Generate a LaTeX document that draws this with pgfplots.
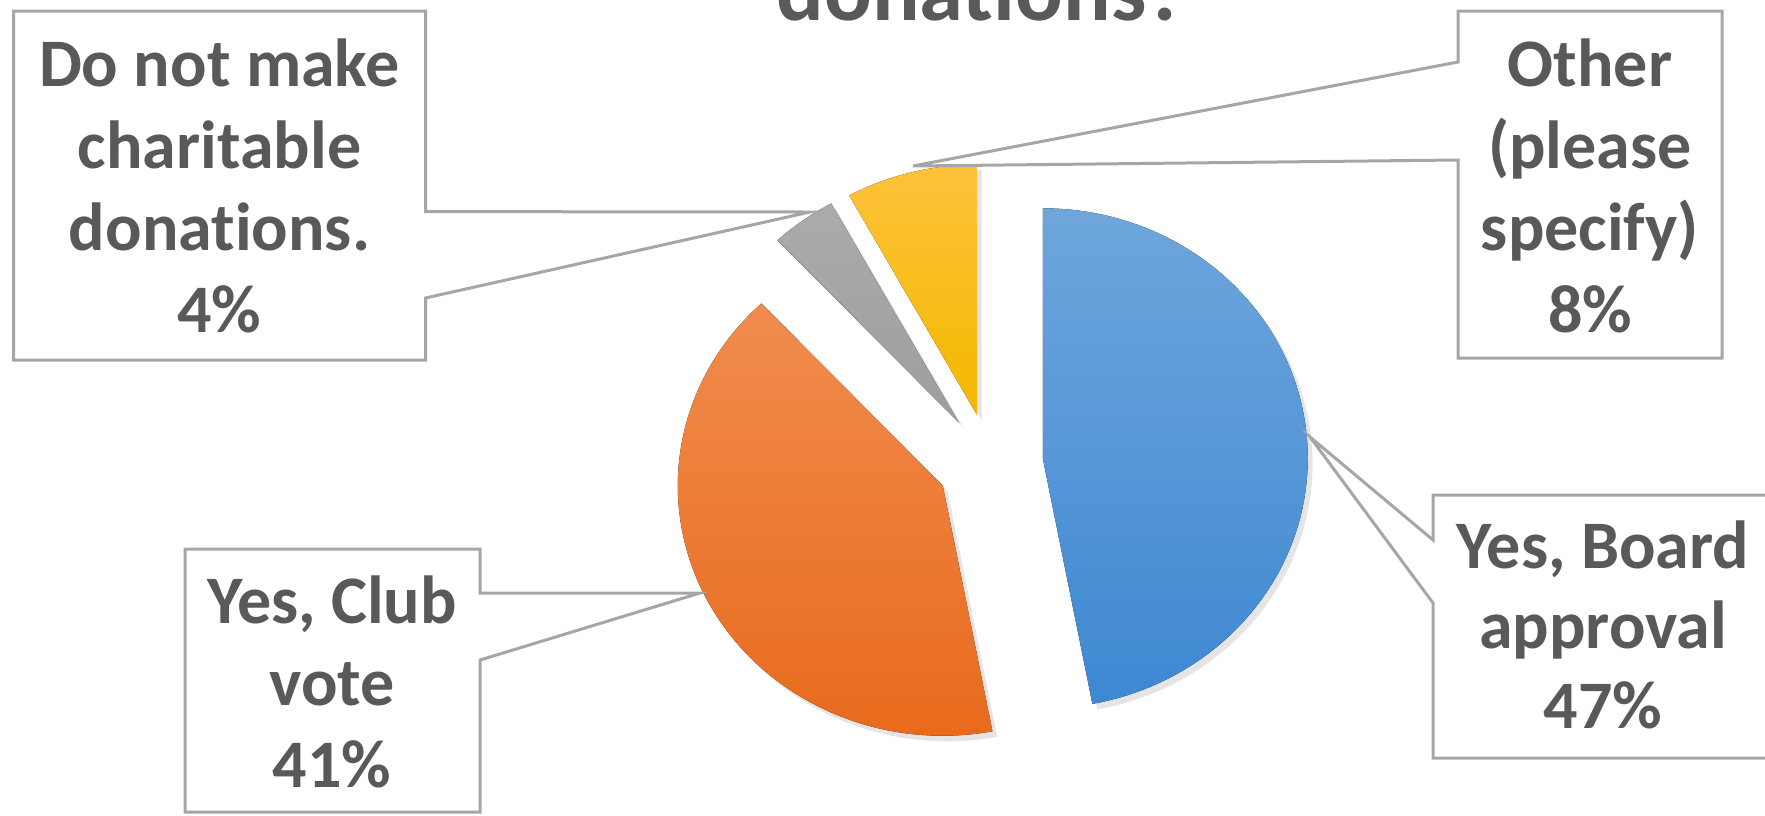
\documentclass[border=0pt]{standalone}
\usepackage{fontspec}
\setmainfont{Carlito}[RawFeature={-liga;-clig;-dlig}]
\usepackage{pgfplots}
\usepackage{pgfplotstable}
\pgfplotsset{compat=1.18}
\definecolor{txt}{HTML}{595959}
\definecolor{edge}{HTML}{A6A6A6}
\definecolor{blueT}{HTML}{6EA6DC}
\definecolor{blueB}{HTML}{3E88D2}
\definecolor{orangeT}{HTML}{F08C4E}
\definecolor{orangeB}{HTML}{E8691A}
\definecolor{grayT}{HTML}{ABABAB}
\definecolor{grayB}{HTML}{9E9E9E}
\definecolor{yellowT}{HTML}{FDC23A}
\definecolor{yellowB}{HTML}{F4B800}
\tikzset{lbl/.style={anchor=base, text=txt, inner sep=0pt, font=\fontsize{17}{20}\selectfont\bfseries}}

\pgfplotstableread[col sep=comma]{
label,value
Yes Board approval,47
Yes Club vote,41
Do not make charitable donations,4
Other (please specify),8
}\piedata

% pie geometry in reference pixels (y downwards)
\def\cx{990}\def\cy{463}\def\rx{265}\def\ry{250}\def\ex{0.2}
\def\upx{0.25}% pt per pixel
\gdef\cum{0}

\newcommand\pieslice[2]{%
  \pgfplotstablegetelem{#1}{value}\of\piedata
  \pgfmathsetmacro\sa{90-3.6*\cum}%
  \pgfmathsetmacro\newcum{\cum+\pgfplotsretval}%
  \xdef\cum{\newcum}%
  \pgfmathsetmacro\sb{90-3.6*\cum}%
  \pgfmathsetmacro\sm{(\sa+\sb)/2}%
  \pgfmathsetmacro\vx{\cx+\ex*\rx*cos(\sm)}%
  \pgfmathsetmacro\vy{\cy-\ex*\ry*sin(\sm)}%
  \pgfmathsetmacro\rxpt{\rx*\upx}%
  \pgfmathsetmacro\rypt{\ry*\upx}%
  \edef\doit{%
    \noexpand\fill[black, opacity=0.10, shift={(1.2pt,-1.4pt)}] (axis cs:\vx,\vy) -- ++(\sa:\rxpt pt and \rypt pt) arc[start angle=\sa, end angle=\sb, x radius=\rxpt pt, y radius=\rypt pt] -- cycle;
    \noexpand\fill[#2] (axis cs:\vx,\vy) -- ++(\sa:\rxpt pt and \rypt pt) arc[start angle=\sa, end angle=\sb, x radius=\rxpt pt, y radius=\rypt pt] -- cycle;}%
  \doit
}

\begin{document}
\begin{tikzpicture}
\path[use as bounding box] (0,0) rectangle (441.25pt,203.75pt);
\clip (0,0) rectangle (441.25pt,203.75pt);
\begin{axis}[at={(0,0)}, anchor=south west, x=0.25pt, y=0.25pt,
  xmin=0, xmax=1765, ymin=0, ymax=815, y dir=reverse,
  hide axis, clip=false, scale only axis]

\pieslice{0}{top color=blueT, bottom color=blueB}
\pieslice{1}{top color=orangeT, bottom color=orangeB}
\pieslice{2}{top color=grayT, bottom color=grayB}
\pieslice{3}{top color=yellowT, bottom color=yellowB}

% callout boxes
\addplot[draw=none, fill=white] coordinates {(13.5,11) (425.5,11) (425.5,360) (13.5,360)} -- cycle;
\addplot[draw=none, fill=white] coordinates {(1458,11) (1722,11) (1722,358) (1458,358)} -- cycle;
\addplot[draw=none, fill=white] coordinates {(185,549) (480,549) (480,812) (185,812)} -- cycle;
\addplot[draw=none, fill=white] coordinates {(1433,495) (1790,495) (1790,758) (1433,758)} -- cycle;

\addplot[draw=edge, line width=0.75pt, line join=miter] coordinates {(13.5,11) (425.5,11) (425.5,211.6) (810,212) (425.5,298) (425.5,360) (13.5,360)} -- cycle;
\addplot[draw=edge, line width=0.75pt, line join=miter] coordinates {(1458,11) (1722,11) (1722,358) (1458,358) (1458,160) (913,166) (1458,62)} -- cycle;
\addplot[draw=edge, line width=0.75pt, line join=miter] coordinates {(185,549) (480,549) (480,593) (700,593) (480,660) (480,812) (185,812)} -- cycle;
\addplot[draw=edge, line width=0.75pt, line join=miter] coordinates {(1433,495) (1790,495) (1790,758) (1433,758) (1433,603) (1310,437) (1433,540)} -- cycle;

% labels
\node[lbl] at (axis cs:219.5,86) {Do not make};
\node[lbl] at (axis cs:219.5,168) {charitable};
\node[lbl] at (axis cs:219.5,250) {donations.};
\node[lbl] at (axis cs:219.5,332) {4\%};

\node[lbl] at (axis cs:1590,86) {Other};
\node[lbl] at (axis cs:1590,168) {(please};
\node[lbl] at (axis cs:1590,250) {specify)};
\node[lbl] at (axis cs:1590,332) {8\%};

\node[lbl] at (axis cs:332,623) {Yes, Club};
\node[lbl] at (axis cs:332,705) {vote};
\node[lbl] at (axis cs:332,787) {41\%};

\node[lbl] at (axis cs:1603,568) {Yes, Board};
\node[lbl] at (axis cs:1603,648) {approval};
\node[lbl] at (axis cs:1603,728) {47\%};

% title (cut off at the top, as in the reference)
\node[anchor=base, text=txt, inner sep=0pt, font=\fontsize{22.2}{26}\selectfont\bfseries] at (axis cs:982,20) {donations?};
\end{axis}
\end{tikzpicture}
\end{document}
